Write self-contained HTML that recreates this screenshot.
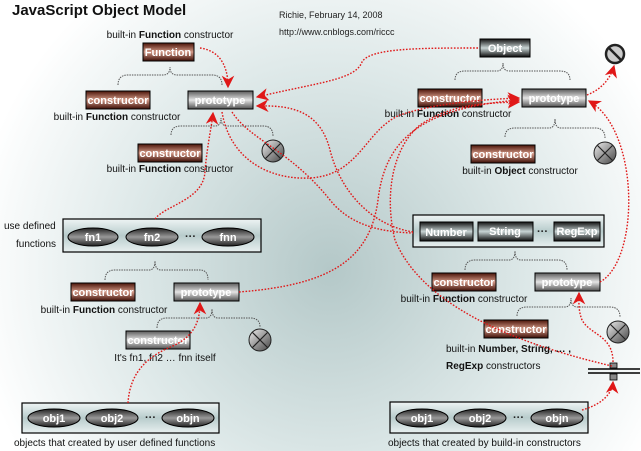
<!DOCTYPE html>
<html><head><meta charset="utf-8"><style>
html,body{margin:0;padding:0;width:641px;height:451px;overflow:hidden;background:#fff}
svg{display:block}
text{font-family:"Liberation Sans",Arial,sans-serif}
.lb{font-size:10px;fill:#111}
.bt{font-size:11px;font-weight:bold;fill:#fff;text-anchor:middle}
.br{fill:none;stroke:#555;stroke-width:1;stroke-dasharray:1.5,1}
.rd{fill:none;stroke:#e01818;stroke-width:1.4;stroke-dasharray:1.6,1.6}
</style></head><body>
<svg width="641" height="451" viewBox="0 0 641 451" xmlns="http://www.w3.org/2000/svg">
<defs>
<radialGradient id="bg" cx="330" cy="270" r="360" gradientUnits="userSpaceOnUse">
<stop offset="0" stop-color="#b4c8c8"/><stop offset="0.55" stop-color="#dde8e8"/><stop offset="1" stop-color="#ffffff"/></radialGradient>
<linearGradient id="gb" x1="0" y1="0" x2="0" y2="1"><stop offset="0" stop-color="#4a1408"/><stop offset="0.5" stop-color="#d49a88"/><stop offset="1" stop-color="#3a0c04"/></linearGradient>
<linearGradient id="gg" x1="0" y1="0" x2="0" y2="1"><stop offset="0" stop-color="#5a5a5a"/><stop offset="0.5" stop-color="#e4e4e4"/><stop offset="1" stop-color="#505050"/></linearGradient>
<linearGradient id="gd" x1="0" y1="0" x2="0" y2="1"><stop offset="0" stop-color="#111"/><stop offset="0.5" stop-color="#c8d4d4"/><stop offset="1" stop-color="#0a0a0a"/></linearGradient>
<linearGradient id="go" x1="0" y1="0" x2="0" y2="1"><stop offset="0" stop-color="#222"/><stop offset="0.5" stop-color="#999"/><stop offset="1" stop-color="#222"/></linearGradient>
<linearGradient id="gc" x1="0" y1="0" x2="1" y2="1"><stop offset="0" stop-color="#eee"/><stop offset="1" stop-color="#444"/></linearGradient>
<linearGradient id="gbox" x1="0" y1="0" x2="0" y2="1"><stop offset="0" stop-color="#eef4f4"/><stop offset="0.5" stop-color="#b8cccc"/><stop offset="1" stop-color="#e8f0f0"/></linearGradient>
<marker id="ar" viewBox="0 0 10 10" refX="9" refY="5" markerWidth="9" markerHeight="9" orient="auto"><path d="M0,0 L10,5 L0,10 L3,5 z" fill="#e01818"/></marker>
<g id="cx"><circle r="11" fill="url(#gc)" stroke="#222"/><path d="M-7.5,-7.5 L7.5,7.5 M7.5,-7.5 L-7.5,7.5" stroke="#222" stroke-width="1.2"/></g>
</defs>
<rect width="641" height="451" fill="url(#bg)"/>

<!-- titles -->
<text x="12" y="15" style="font-size:15px;font-weight:bold;fill:#111">JavaScript Object Model</text>
<text x="279" y="18" style="font-size:9px;fill:#222">Richie, February 14, 2008</text>
<text x="279" y="35" style="font-size:9px;fill:#222">http://www.cnblogs.com/riccc</text>

<!-- braces -->
<path class="br" d="M118,85 Q118,75 128,75 L163,75 Q170,75 170,67 Q170,75 177,75 L212,75 Q222,75 222,85"/>
<path class="br" d="M171,135 Q171,126 181,126 L215,126 Q221,126 221,118 Q221,126 227,126 L263,126 Q273,126 273,136"/>
<path class="br" d="M455,80 Q455,71 465,71 L497,71 Q503,71 503,63 Q503,71 509,71 L560,71 Q570,71 570,80"/>
<path class="br" d="M505,137 Q505,128 515,128 L549,128 Q555,128 555,119 Q555,128 561,128 L595,128 Q605,128 605,138"/>
<path class="br" d="M105,280 Q105,270 115,270 L149,270 Q155,270 155,261 Q155,270 161,270 L200,270 Q208,270 208,280"/>
<path class="br" d="M157,328 Q157,318 167,318 L206,318 Q212,318 212,309 Q212,318 218,318 L250,318 Q260,318 260,327"/>
<path class="br" d="M465,270 Q465,260 475,260 L509,260 Q515,260 515,251 Q515,260 521,260 L558,260 Q567,260 567,270"/>
<path class="br" d="M517,316 Q517,307 527,307 L565,307 Q571,307 571,298 Q571,307 577,307 L610,307 Q620,307 620,317"/>

<!-- container boxes -->
<rect x="63" y="219" width="198" height="33" fill="url(#gbox)" stroke="#000" stroke-width="1.2"/>
<rect x="413" y="215" width="191" height="32" fill="url(#gbox)" stroke="#000" stroke-width="1.2"/>
<rect x="22" y="403" width="197" height="30" fill="url(#gbox)" stroke="#000" stroke-width="1.2"/>
<rect x="390" y="402" width="198" height="31" fill="url(#gbox)" stroke="#000" stroke-width="1.2"/>

<!-- brown boxes -->
<g stroke="#000" stroke-width="1">
<rect x="143" y="43" width="51" height="18" fill="url(#gb)"/>
<rect x="86" y="91" width="64" height="18" fill="url(#gb)"/>
<rect x="138" y="144" width="64" height="18" fill="url(#gb)"/>
<rect x="418" y="89" width="64" height="18" fill="url(#gb)"/>
<rect x="471" y="145" width="64" height="18" fill="url(#gb)"/>
<rect x="71" y="283" width="64" height="18" fill="url(#gb)"/>
<rect x="432" y="273" width="64" height="18" fill="url(#gb)"/>
<rect x="484" y="320" width="64" height="18" fill="url(#gb)"/>
<!-- grey -->
<rect x="188" y="91" width="65" height="18" fill="url(#gg)"/>
<rect x="522" y="89" width="64" height="18" fill="url(#gg)"/>
<rect x="174" y="283" width="65" height="18" fill="url(#gg)"/>
<rect x="126" y="331" width="64" height="18" fill="url(#gg)"/>
<rect x="535" y="273" width="65" height="18" fill="url(#gg)"/>
<!-- dark -->
<rect x="480" y="39" width="50" height="18" fill="url(#gd)"/>
<rect x="420" y="222" width="53" height="19" fill="url(#gd)"/>
<rect x="478" y="222" width="55" height="19" fill="url(#gd)"/>
<rect x="554" y="222" width="46" height="19" fill="url(#gd)"/>
<!-- ovals -->
<ellipse cx="93" cy="237" rx="25" ry="9" fill="url(#go)"/>
<ellipse cx="152" cy="237" rx="26" ry="9" fill="url(#go)"/>
<ellipse cx="228" cy="237" rx="26" ry="9" fill="url(#go)"/>
<ellipse cx="54" cy="418" rx="26" ry="9" fill="url(#go)"/>
<ellipse cx="112" cy="418" rx="26" ry="9" fill="url(#go)"/>
<ellipse cx="188" cy="418" rx="26" ry="9" fill="url(#go)"/>
<ellipse cx="422" cy="418" rx="26" ry="9" fill="url(#go)"/>
<ellipse cx="480" cy="418" rx="26" ry="9" fill="url(#go)"/>
<ellipse cx="557" cy="418" rx="26" ry="9" fill="url(#go)"/>
</g>

<g class="bt">
<text x="168" y="56" class="bt">Function</text>
<text x="118" y="104" class="bt">constructor</text>
<text x="220" y="104" class="bt">prototype</text>
<text x="170" y="157" class="bt">constructor</text>
<text x="505" y="52" class="bt">Object</text>
<text x="450" y="102" class="bt">constructor</text>
<text x="554" y="102" class="bt">prototype</text>
<text x="503" y="158" class="bt">constructor</text>
<text x="103" y="296" class="bt">constructor</text>
<text x="206" y="296" class="bt">prototype</text>
<text x="158" y="344" class="bt">constructor</text>
<text x="464" y="286" class="bt">constructor</text>
<text x="567" y="286" class="bt">prototype</text>
<text x="516" y="333" class="bt">constructor</text>
<text x="446" y="236" class="bt">Number</text>
<text x="505" y="235" class="bt">String</text>
<text x="577" y="235" class="bt">RegExp</text>
<text x="93" y="241" class="bt">fn1</text>
<text x="152" y="241" class="bt">fn2</text>
<text x="228" y="241" class="bt">fnn</text>
<text x="54" y="422" class="bt">obj1</text>
<text x="112" y="422" class="bt">obj2</text>
<text x="188" y="422" class="bt">objn</text>
<text x="422" y="422" class="bt">obj1</text>
<text x="480" y="422" class="bt">obj2</text>
<text x="557" y="422" class="bt">objn</text>
</g>
<g style="font-size:11px;font-weight:bold;fill:#222">
<text x="185" y="240">···</text><text x="537" y="235">···</text>
<text x="145" y="421">···</text><text x="513" y="421">···</text>
</g>

<!-- labels -->
<text x="170" y="38" class="lb" text-anchor="middle">built-in <tspan font-weight="bold">Function</tspan> constructor</text>
<text x="117" y="120" class="lb" text-anchor="middle">built-in <tspan font-weight="bold">Function</tspan> constructor</text>
<text x="170" y="172" class="lb" text-anchor="middle">built-in <tspan font-weight="bold">Function</tspan> constructor</text>
<text x="448" y="117" class="lb" text-anchor="middle">built-in <tspan font-weight="bold">Function</tspan> constructor</text>
<text x="520" y="174" class="lb" text-anchor="middle">built-in <tspan font-weight="bold">Object</tspan> constructor</text>
<text x="4" y="229" class="lb">use defined</text>
<text x="16" y="247" class="lb">functions</text>
<text x="104" y="313" class="lb" text-anchor="middle">built-in <tspan font-weight="bold">Function</tspan> constructor</text>
<text x="165" y="361" class="lb" text-anchor="middle">It's fn1, fn2 … fnn itself</text>
<text x="464" y="302" class="lb" text-anchor="middle">built-in <tspan font-weight="bold">Function</tspan> constructor</text>
<text x="446" y="352" class="lb">built-in <tspan font-weight="bold">Number, String, … ,</tspan></text>
<text x="446" y="369" class="lb"><tspan font-weight="bold">RegExp</tspan> constructors</text>
<text x="14" y="446" class="lb">objects that created by user defined functions</text>
<text x="388" y="446" class="lb">objects that created by build-in constructors</text>

<!-- circled X -->
<use href="#cx" x="273" y="151"/>
<use href="#cx" x="605" y="153"/>
<use href="#cx" x="260" y="340"/>
<use href="#cx" x="618" y="332"/>
<!-- no sign -->
<g transform="translate(615,54)"><circle r="9" fill="#ccc" stroke="#222" stroke-width="2.5"/><path d="M-6,-6 L6,6" stroke="#222" stroke-width="2.5"/></g>
<!-- barrier -->
<line x1="588" y1="369" x2="640" y2="369" stroke="#000" stroke-width="1.5"/>
<line x1="588" y1="373" x2="640" y2="373" stroke="#000" stroke-width="1.5"/>
<rect x="610" y="363" width="7" height="5" fill="#888" stroke="#000" stroke-width="0.8"/>
<rect x="610" y="374" width="7" height="6" fill="#888" stroke="#000" stroke-width="0.8"/>

<!-- red arrows -->
<g class="rd" marker-end="url(#ar)">
<path d="M200,48 C215,50 228,60 228,87"/>
<path d="M478,48 C420,48 370,48 362,62 C355,80 320,82 257,97"/>
<path d="M413,232 C370,225 340,190 330,150 C320,110 290,105 257,106"/>
<path d="M155,219 C165,205 205,200 205,170 C208,140 212,125 213,113"/>
<path d="M222,112 C230,160 270,180 310,178 C360,175 365,130 400,115 C430,105 470,100 519,98"/>
<path d="M239,292 C330,285 370,260 378,200 C385,140 420,108 519,100"/>
<path d="M612,366 C500,340 420,300 395,240 C385,200 390,150 420,125 C450,105 480,103 519,102"/>
<path d="M587,95 C600,90 610,80 614,66"/>
<path d="M600,282 C640,260 640,130 589,101"/>
<path d="M128,403 C130,370 150,355 175,345 C195,335 200,320 200,303"/>
<path d="M582,410 C600,405 612,395 613,382"/>
<path d="M613,362 C613,335 590,335 582,320 C578,310 579,300 579,293"/>
</g>
<path class="rd" d="M232,112 C250,140 290,150 330,200 C350,225 380,232 413,233"/>
</svg>
</body></html>
